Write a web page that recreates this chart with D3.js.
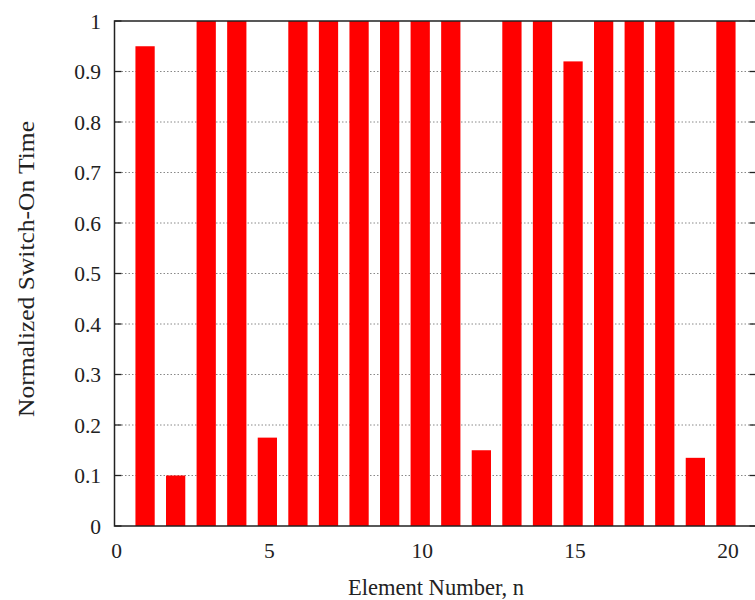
<!DOCTYPE html>
<html><head><meta charset="utf-8">
<script src="https://cdn.jsdelivr.net/npm/d3@7"></script>
<style>body{margin:0;background:#fff}svg{display:block}text{font-family:"Liberation Serif","DejaVu Serif",serif;fill:#222}</style>
</head><body>
<svg id="c" width="755" height="600"></svg>
<script>
const elements = [1,2,3,4,5,6,7,8,9,10,11,12,13,14,15,16,17,18,19,20];
const switchOnTime = [0.95,0.10,1,1,0.175,1,1,1,1,1,1,0.15,1,1,0.92,1,1,1,0.135,1];
const xTicks = [0,5,10,15,20];
const yTicks = [0,0.1,0.2,0.3,0.4,0.5,0.6,0.7,0.8,0.9,1];

const svg = d3.select("#c");
const L = 114.5, R = 756.5, T = 21, B = 526;
const x = d3.scaleLinear().domain([0,21]).range([L,R]);
const y = d3.scaleLinear().domain([0,1]).range([B,T]);
const barW = 0.63;

// gridlines
svg.append("g").selectAll("line").data(yTicks.filter(d=>d>0&&d<1)).join("line")
  .attr("x1",L).attr("x2",R).attr("y1",d=>y(d)).attr("y2",d=>y(d))
  .attr("stroke","#888").attr("stroke-width",1).attr("stroke-dasharray","1.5,2");

// ticks inside left and right
svg.append("g").selectAll("line").data(yTicks).join("line")
  .attr("x1",L).attr("x2",L+7).attr("y1",d=>y(d)).attr("y2",d=>y(d))
  .attr("stroke","#222").attr("stroke-width",1.3);
svg.append("g").selectAll("line").data(yTicks).join("line")
  .attr("x1",R-7).attr("x2",R).attr("y1",d=>y(d)).attr("y2",d=>y(d))
  .attr("stroke","#222").attr("stroke-width",1.3);

// bars
svg.append("g").selectAll("rect").data(elements).join("rect")
  .attr("x",(d)=>x(d-barW/2)).attr("width",x(barW)-x(0))
  .attr("y",(d,i)=>y(switchOnTime[i])).attr("height",(d,i)=>B-y(switchOnTime[i]))
  .attr("fill","#ff0000");

// border
svg.append("rect").attr("x",L).attr("y",T).attr("width",R-L).attr("height",B-T)
  .attr("fill","none").attr("stroke","#222").attr("stroke-width",1.5);

// y tick labels
svg.append("g").selectAll("text").data(yTicks).join("text")
  .attr("x",101).attr("y",d=>y(d)).attr("dy","0.35em").attr("text-anchor","end")
  .attr("font-size",21.5).text(d=>d3.format("")(d));
// x tick labels
svg.append("g").selectAll("text").data(xTicks).join("text")
  .attr("x",d=>x(d)+2).attr("y",558).attr("text-anchor","middle")
  .attr("font-size",21.5).text(d=>d);

// axis titles
svg.append("text").attr("x",436).attr("y",595).attr("text-anchor","middle")
  .attr("font-size",22.5).attr("textLength",176).attr("lengthAdjust","spacingAndGlyphs")
  .text("Element Number, n");
svg.append("text").attr("transform","translate(34,269) rotate(-90)").attr("text-anchor","middle")
  .attr("font-size",22.5).attr("textLength",296).attr("lengthAdjust","spacingAndGlyphs")
  .text("Normalized Switch-On Time");
</script>
</body></html>
